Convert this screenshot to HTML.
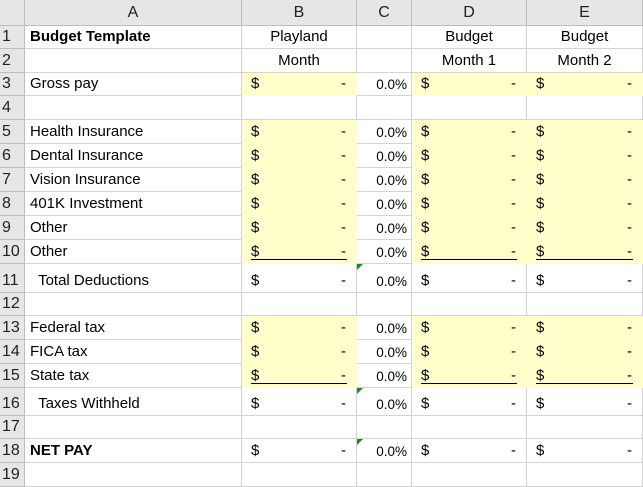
<!DOCTYPE html>
<html><head><meta charset="utf-8"><style>
body{margin:0;width:643px;height:473px;overflow:hidden;background:#fff;font-family:"Liberation Sans",Arial,sans-serif;font-size:15px;color:#000}
#sheet{position:absolute;left:0;top:0;width:643px;height:473px}
.c{position:absolute;box-sizing:border-box;border-right:1px solid #d4d4d4;border-bottom:1px solid #d4d4d4;white-space:nowrap;overflow:hidden}
.h{background:#e6e6e6;border-color:#bdbdbd;color:#222;text-align:center;font-size:16px}
.y{background:#ffffcc;border-color:#ffffcc}
.t{position:absolute;bottom:3px}
.ul{position:absolute;left:9px;right:9px;bottom:3px;border-bottom:1.5px solid #000}
.tri{position:absolute;left:0;top:0;width:0;height:0;border-top:6px solid #1e8a1e;border-right:6px solid transparent}
</style></head><body>
<div id="sheet"></div>
<script>
const colX=[0,25,242,357,412,527,643];
const colNames=["","A","B","C","D","E"];
const rowY=[0,26,49,73,96,120,144,168,192,216,240,264,293,316,340,364,388,416,439,463,487];
const labels=["Budget Template","","Gross pay","","Health Insurance","Dental Insurance","Vision Insurance","401K Investment","Other","Other","  Total Deductions","","Federal tax","FICA tax","State tax","  Taxes Withheld","","NET PAY",""];
const inputRows=[3,5,6,7,8,9,10,13,14,15];
const valueRows=[3,5,6,7,8,9,10,11,13,14,15,16,18];
const underlineRows=[10,15];
const flagRows=[11,16,18];
const bHead=["Playland","Month"],dHead=["Budget","Month 1"],eHead=["Budget","Month 2"];
const S=document.getElementById('sheet');
function cell(x,y,w,h,cls){const d=document.createElement('div');d.className='c '+cls;d.style.left=x+'px';d.style.top=y+'px';d.style.width=w+'px';d.style.height=h+'px';S.appendChild(d);return d;}
function txt(p,s,st){const t=document.createElement('span');t.className='t';t.textContent=s;Object.assign(t.style,st);p.appendChild(t);return t;}
for(let c=0;c<6;c++){const d=cell(colX[c],0,colX[c+1]-colX[c],26,'h');d.style.lineHeight='25px';d.textContent=colNames[c];

}
for(let r=1;r<=19;r++){
 const y=rowY[r],h=rowY[r+1]-y;
 const rh=cell(0,y,25,h,'h');rh.textContent=r;rh.style.textAlign='left';rh.style.paddingLeft='2px';rh.style.display='flex';rh.style.alignItems='flex-end';rh.style.paddingBottom='2px';rh.style.lineHeight='normal';
 
 
 for(let c=1;c<6;c++){
  const yellow=inputRows.includes(r)&&(c===2||c===4||c===5);
  const d=cell(colX[c],y,colX[c+1]-colX[c],h,yellow?'y':'');
  
  
  if(c===1&&labels[r-1]){const t=txt(d,labels[r-1],{left:'5px',whiteSpace:'pre'});if(r===1||r===18)t.style.fontWeight='bold';}
  if(r<=2&&c!==1&&c!==3){const hd=c===2?bHead:c===4?dHead:eHead;txt(d,hd[r-1],{left:0,right:0,textAlign:'center'});}
  if(valueRows.includes(r)){
   if(c===3){txt(d,'0.0%',{right:'4px',fontSize:'13.5px'});if(flagRows.includes(r)){const f=document.createElement('div');f.className='tri';
d.appendChild(f);}}
   else if(c>1){txt(d,'$',{left:'9px'});txt(d,'-',{right:'10px'});
    if(underlineRows.includes(r)){const u=document.createElement('div');u.className='ul';
d.appendChild(u);}}
  }
 }
}
</script>
</body></html>
